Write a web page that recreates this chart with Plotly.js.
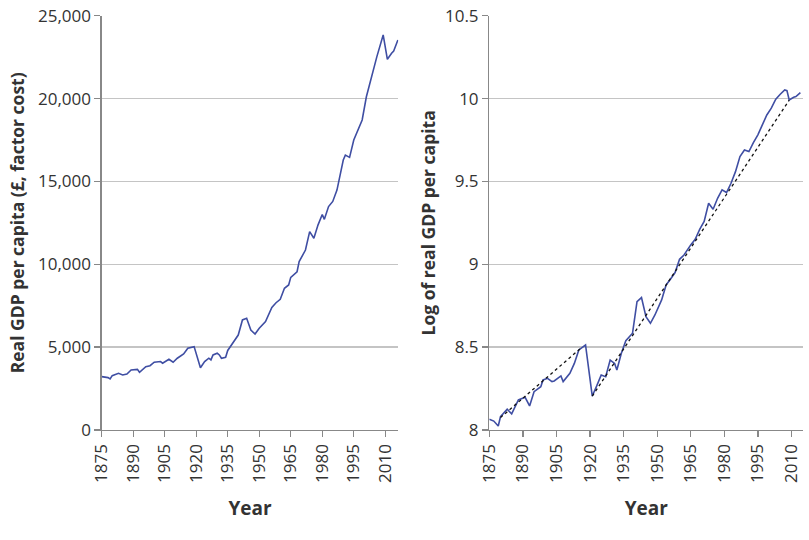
<!DOCTYPE html>
<html>
<head>
<meta charset="utf-8">
<script src="https://cdn.plot.ly/plotly-3.0.1.min.js"></script>
<style>html,body{margin:0;padding:0;background:#fff;}#chart{width:809px;height:540px;}</style>
</head>
<body>
<div id="chart"></div>
<script>
// Left panel: real GDP per capita (£, factor cost)
const gdpYears = [1875,1878,1879,1880,1883,1885,1887,1889,1892,1893,1896,1898,1900,1903,1904,1907,1909,1911,1914,1916,1919,1922,1924,1926,1927,1928,1930,1931,1932,1934,1935,1938,1940,1942,1944,1946,1948,1950,1953,1956,1958,1960,1962,1964,1965,1968,1969,1972,1974,1976,1978,1980,1981,1983,1985,1987,1990,1991,1993,1995,1999,2001,2003,2006,2009,2011,2013,2014,2016];
const gdpValues = [3220,3160,3080,3280,3420,3320,3380,3620,3660,3480,3820,3880,4090,4130,4030,4270,4090,4330,4590,4930,5030,3760,4130,4330,4230,4530,4630,4530,4330,4390,4800,5330,5730,6640,6740,6030,5790,6140,6540,7400,7680,7890,8550,8750,9210,9550,10160,10860,11970,11570,12380,13000,12710,13480,13790,14480,16290,16590,16450,17500,18710,20110,21120,22530,23840,22370,22730,22870,23530];

// Right panel: log of real GDP per capita
const logYears = [1875,1877,1879,1880,1883,1885,1888,1891,1893,1895,1898,1899,1901,1903,1904,1907,1908,1911,1913,1915,1918,1921,1923,1925,1927,1929,1931,1932,1934,1936,1939,1941,1943,1945,1947,1949,1952,1954,1956,1958,1960,1962,1965,1967,1969,1971,1973,1975,1977,1979,1981,1983,1985,1987,1989,1991,1993,1995,1997,1999,2001,2003,2005,2007,2008,2009,2011,2012,2014];
const logValues = [8.065,8.054,8.024,8.080,8.125,8.097,8.181,8.197,8.145,8.231,8.261,8.302,8.312,8.292,8.296,8.326,8.292,8.342,8.402,8.483,8.513,8.205,8.266,8.332,8.322,8.422,8.402,8.362,8.463,8.539,8.584,8.775,8.799,8.684,8.644,8.694,8.785,8.875,8.911,8.950,9.030,9.056,9.117,9.151,9.211,9.258,9.368,9.332,9.398,9.449,9.433,9.489,9.559,9.650,9.690,9.680,9.734,9.781,9.841,9.901,9.942,9.996,10.026,10.052,10.048,9.992,10.008,10.012,10.036];

// Trend lines (dashed) on right panel
const trend1Years = [1880, 1916];
const trend1Values = [8.075, 8.495];
const trend2Years = [1921, 2009];
const trend2Values = [8.205, 9.99];

const xTicks = [1875,1890,1905,1920,1935,1950,1965,1980,1995,2010];
const leftYTicks = [0,5000,10000,15000,20000,25000];
const rightYTicks = [8,8.5,9,9.5,10,10.5];

const lineColor = '#3f4ea3';
const font = {family: '"Open Sans", "Noto Sans", sans-serif', color: '#333', size: 17};

const traces = [
  {x: gdpYears, y: gdpValues, type: 'scatter', mode: 'lines', line: {color: lineColor, width: 1.6}, xaxis: 'x', yaxis: 'y', hoverinfo: 'skip'},
  {x: logYears, y: logValues, type: 'scatter', mode: 'lines', line: {color: lineColor, width: 1.6}, xaxis: 'x2', yaxis: 'y2', hoverinfo: 'skip'},
  {x: trend1Years, y: trend1Values, type: 'scatter', mode: 'lines', line: {color: '#111', width: 1.3, dash: '3px,3px'}, xaxis: 'x2', yaxis: 'y2', hoverinfo: 'skip'},
  {x: trend2Years, y: trend2Values, type: 'scatter', mode: 'lines', line: {color: '#111', width: 1.3, dash: '3px,3px'}, xaxis: 'x2', yaxis: 'y2', hoverinfo: 'skip'}
];

const W = 809, H = 540;
const xAxisBase = {
  tickvals: xTicks, ticktext: xTicks.map(String), tickangle: -90,
  showgrid: false, zeroline: false, showline: true, linecolor: '#888', linewidth: 1.3,
  ticks: 'outside', ticklen: 6, tickcolor: '#888', tickwidth: 1.3,
  tickfont: {size: 17, color: '#333'},
  title: {text: '<b>Year</b>', font: {size: 19, color: '#333'}, standoff: 19}
};
const yAxisBase = {
  showgrid: true, gridcolor: '#c4c4c4', gridwidth: 1.3, zeroline: false,
  showline: true, linecolor: '#888', linewidth: 1.3,
  ticks: 'outside', ticklen: 6, tickcolor: '#888', tickwidth: 1.3,
  tickfont: {size: 17, color: '#333'}
};

const layout = {
  width: W, height: H,
  margin: {l: 0, r: 0, t: 0, b: 0},
  paper_bgcolor: '#fff', plot_bgcolor: '#fff',
  font: font, showlegend: false,
  xaxis: Object.assign({}, xAxisBase, {domain: [101.7/W, 398.3/W], range: [1875, 2016.2], anchor: 'y'}),
  xaxis2: Object.assign({}, xAxisBase, {domain: [489.3/W, 803.3/W], range: [1875, 2015.3], anchor: 'y2'}),
  yaxis: Object.assign({}, yAxisBase, {domain: [1 - 430/H, 1 - 15.7/H], range: [0, 25000], tickvals: leftYTicks, tickformat: ',', anchor: 'x',
    title: {text: '<b>Real GDP per capita (£, factor cost)</b>', font: {size: 17.5, color: '#333'}, standoff: 9}}),
  yaxis2: Object.assign({}, yAxisBase, {domain: [1 - 430/H, 1 - 15.7/H], range: [8, 10.5], tickvals: rightYTicks, ticktext: rightYTicks.map(String), anchor: 'x2',
    title: {text: '<b>Log of real GDP per capita</b>', font: {size: 17.5, color: '#333'}, standoff: 4}})
};

Plotly.newPlot('chart', traces, layout, {staticPlot: true, displayModeBar: false});
</script>
</body>
</html>
